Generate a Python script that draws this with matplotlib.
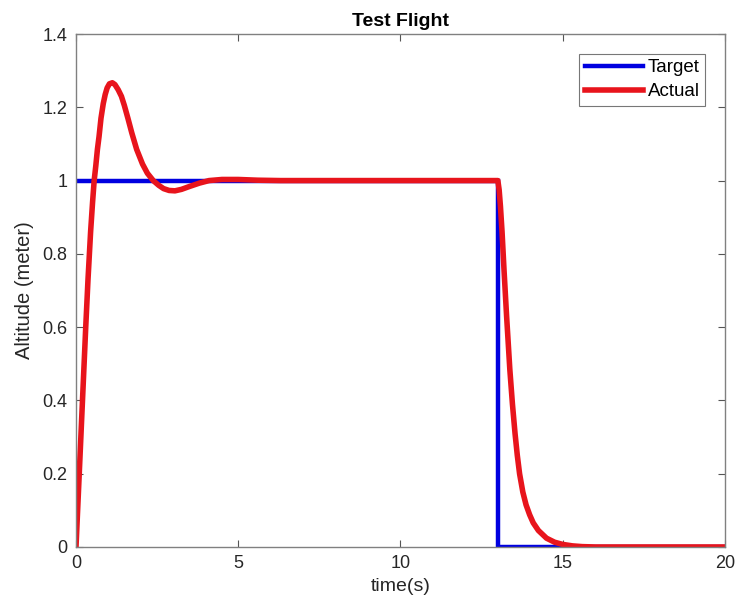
import matplotlib
matplotlib.use("Agg")
import matplotlib.pyplot as plt

plt.rcParams['font.family'] = ['Liberation Sans', 'DejaVu Sans']

# Target signal
target_t = [0, 13, 13, 20]
target_y = [1, 1, 0, 0]

# Actual response
actual_t = [0, 0.05, 0.1, 0.15, 0.2, 0.25, 0.3, 0.37, 0.45, 0.51, 0.56, 0.61, 0.66, 0.71,
            0.77, 0.84, 0.9, 0.96, 1.03, 1.12, 1.2, 1.3, 1.4, 1.49, 1.6, 1.72, 1.87, 2.05, 2.2, 2.38,
            2.55, 2.7, 2.87, 3.05, 3.25, 3.5, 3.8, 4.1, 4.5, 5.0, 5.6, 6.3, 8, 10, 12,
            13.0, 13.04, 13.08, 13.13, 13.19, 13.27, 13.37, 13.45, 13.53, 13.6, 13.67,
            13.77, 13.87, 13.98, 14.09, 14.25, 14.5, 14.75, 15.0, 15.3, 15.6, 16, 17, 18, 20]
actual_y = [0, 0.10, 0.20, 0.30, 0.40, 0.50, 0.60, 0.73, 0.86, 0.94, 1.0, 1.04, 1.085, 1.12,
            1.17, 1.21, 1.235, 1.253, 1.264, 1.267, 1.262, 1.248, 1.23, 1.205, 1.17, 1.13, 1.085, 1.045, 1.02, 1.0,
            0.987, 0.978, 0.973, 0.972, 0.976, 0.984, 0.993, 1.0, 1.003, 1.003, 1.001, 1.0, 1.0, 1.0, 1.0,
            1.0, 0.975, 0.93, 0.86, 0.757, 0.63, 0.484, 0.39, 0.31, 0.25, 0.20,
            0.15, 0.115, 0.088, 0.066, 0.045, 0.024, 0.013, 0.007, 0.003, 0.001, 0, 0, 0, 0]

xticks = [0, 5, 10, 15, 20]
yticks = [0, 0.2, 0.4, 0.6, 0.8, 1.0, 1.2, 1.4]
ytick_labels = ['0', '0.2', '0.4', '0.6', '0.8', '1', '1.2', '1.4']
xtick_labels = ['0', '5', '10', '15', '20']

fig = plt.figure(figsize=(7.4, 6.15), dpi=100)
ax = fig.add_axes([0.1027, 0.1106, 0.8770, 0.8341])

ax.plot(target_t, target_y, color='#0000e0', linewidth=3.2, label='Target', solid_joinstyle='miter')
ax.plot(actual_t, actual_y, color='#e8141c', linewidth=4.0, label='Actual')

ax.set_xlim(0, 20)
ax.set_ylim(0, 1.4)
ax.set_xticks(xticks)
ax.set_xticklabels(xtick_labels)
ax.set_yticks(yticks)
ax.set_yticklabels(ytick_labels)
ax.tick_params(direction='in', top=True, right=True, length=5, width=0.8,
               color='#555555', labelsize=13, labelcolor='#262626', pad=6)
for s in ax.spines.values():
    s.set_color('#808080')
    s.set_linewidth(1.0)

ax.set_xlabel('time(s)', fontsize=14, color='#262626', labelpad=4)
ax.set_ylabel('Altitude (meter)', fontsize=14.5, color='#262626', labelpad=6)
ax.set_title('Test Flight', fontsize=14, fontweight='bold', pad=6)

leg = ax.legend(loc='upper right', fontsize=13.5, frameon=True, fancybox=False,
                edgecolor='#555555', handlelength=3.1, handletextpad=0.25,
                borderpad=0.3, labelspacing=0.35, borderaxespad=1.05)
leg.get_frame().set_linewidth(0.8)

fig.savefig('out.png', dpi=100)
